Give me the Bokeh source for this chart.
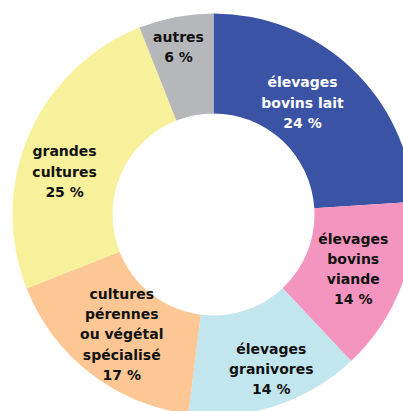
import math
from bokeh.plotting import figure
from bokeh.models import ColumnDataSource
from bokeh.core.properties import value
from bokeh.embed import file_html
from bokeh.resources import INLINE

# Data
categories = ["élevages\nbovins lait", "élevages\nbovins\nviande", "élevages\ngranivores",
              "cultures\npérennes\nou végétal\nspécialisé", "grandes\ncultures", "autres"]
shares = [24, 14, 14, 17, 25, 6]
colors = ["#3B53A4", "#F395BF", "#C2E6EE", "#FCC794", "#F7F19B", "#B6B7BB"]
text_colors = ["#FFFFFF", "#111111", "#111111", "#111111", "#111111", "#111111"]

# Layout (pixel units: 1 data unit = 1 px)
W, H = 403, 411
cx, cy = 213, 197
r_in, r_out = 101, 201
label_r = [143, 150, 165, 151, 155, 171]
label_dang = [4.7, 0.3, 2.5, 0.4, 7.3, 1.0]

total = sum(shares)
starts, ends, lx, ly, labels = [], [], [], [], []
cum = 0
for i, s in enumerate(shares):
    a_hi = 90 - cum / total * 360
    a_lo = 90 - (cum + s) / total * 360
    cum += s
    starts.append(math.radians(a_lo))
    ends.append(math.radians(a_hi))
    mid = (a_hi + a_lo) / 2 + label_dang[i]
    lx.append(cx + label_r[i] * math.cos(math.radians(mid)))
    ly.append(cy + label_r[i] * math.sin(math.radians(mid)))
    labels.append(f"{categories[i]}\n{s} %")

src = ColumnDataSource(dict(start=starts, end=ends, color=colors,
                            x=lx, y=ly, label=labels, tcolor=text_colors))

p = figure(width=W, height=H, x_range=(0, W), y_range=(0, H),
           x_axis_type=None, y_axis_type=None, min_border=0,
           toolbar_location=None, output_backend="svg")
p.grid.visible = False
p.outline_line_color = None
p.background_fill_color = "white"

p.annular_wedge(x=cx, y=cy, inner_radius=r_in, outer_radius=r_out,
                start_angle="start", end_angle="end", fill_color="color",
                line_color=None, source=src)
p.text(x="x", y="y", text="label", text_color="tcolor", source=src,
       text_align="center", text_baseline="middle",
       text_font=value("DejaVu Sans"), text_font_style="bold",
       text_font_size="14px", text_line_height=1.27)

open("out.html", "w").write(file_html(p, INLINE))
